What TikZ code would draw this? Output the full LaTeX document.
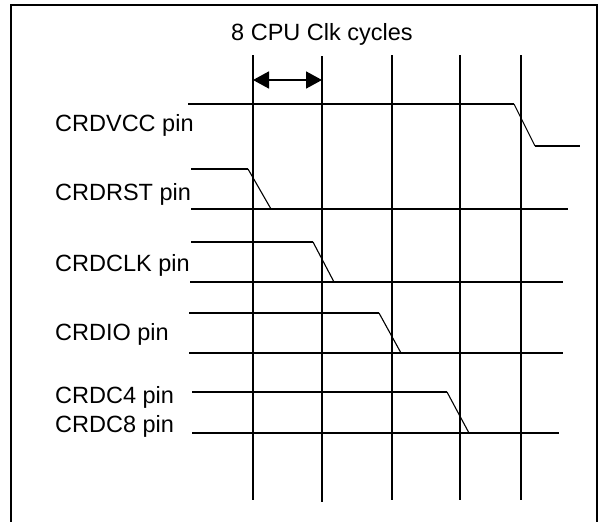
\documentclass[tikz,border=0pt]{standalone}
\usepackage{fontspec}
\setmainfont{Liberation Sans}
\usetikzlibrary{arrows.meta}
\begin{document}
\begin{tikzpicture}[x=1pt,y=-1pt,
  frame/.style={line width=2pt},
  wire/.style={line width=1.6pt},
  edgeline/.style={line width=1.1pt},
  gridline/.style={line width=1.6pt},
  lbl/.style={anchor=base west,inner sep=0pt,font=\fontsize{23.5}{28}\selectfont},
  ttl/.style={anchor=base,inner sep=0pt,font=\fontsize{23.5}{28}\selectfont},
  span/.style={line width=1.6pt,{Triangle[length=16pt,width=17pt]}-{Triangle[length=16pt,width=17pt]}}]
\useasboundingbox (0,0) rectangle (606,522);
% frame
\draw[frame] (10.7,522) -- (10.7,5) -- (597,5) -- (597,522);
% title
\node[ttl] (title) at (322,40) {8 CPU Clk cycles};
% vertical grid lines
\coordinate (g1t) at (253,55);  \coordinate (g1b) at (253,500);
\coordinate (g2t) at (322,56);  \coordinate (g2b) at (322,502);
\coordinate (g3t) at (392,55);  \coordinate (g3b) at (392,500);
\coordinate (g4t) at (460,55);  \coordinate (g4b) at (460,500);
\coordinate (g5t) at (521,55);  \coordinate (g5b) at (521,500);
\foreach \i in {1,...,5} {\draw[gridline] (g\i t) -- (g\i b);}
% arrow between first two grid lines
\coordinate (a1) at (253,80);
\coordinate (a2) at (322,80);
\draw[span] (a1) -- (a2);
% labels
\node[lbl] (lvcc) at (55,131) {CRDVCC pin};
\node[lbl] (lrst) at (55,200) {CRDRST pin};
\node[lbl] (lclk) at (55,271) {CRDCLK pin};
\node[lbl] (lio)  at (55,340) {CRDIO pin};
\node[lbl] (lc4)  at (55,403) {CRDC4 pin};
\node[lbl] (lc8)  at (55,432) {CRDC8 pin};
% CRDVCC
\coordinate (vcc1) at (188,104); \coordinate (vcc2) at (514,104);
\coordinate (vcc3) at (535,146); \coordinate (vcc4) at (580,146);
\draw[wire] (vcc1) -- (vcc2);
\draw[edgeline] (vcc2) -- (vcc3);
\draw[wire] (vcc3) -- (vcc4);
% CRDRST
\coordinate (rst1) at (191,169); \coordinate (rst2) at (248,169);
\coordinate (rst3) at (271,209); \coordinate (rst0) at (191,209);
\coordinate (rst4) at (568,209);
\draw[wire] (rst1) -- (rst2);
\draw[edgeline] (rst2) -- (rst3);
\draw[wire] (rst0) -- (rst4);
% CRDCLK
\coordinate (clk1) at (191,242); \coordinate (clk2) at (313,242);
\coordinate (clk3) at (334,282); \coordinate (clk0) at (190,282);
\coordinate (clk4) at (563,282);
\draw[wire] (clk1) -- (clk2);
\draw[edgeline] (clk2) -- (clk3);
\draw[wire] (clk0) -- (clk4);
% CRDIO
\coordinate (io1) at (189,313); \coordinate (io2) at (379,313);
\coordinate (io3) at (401,353); \coordinate (io0) at (189,353);
\coordinate (io4) at (563,353);
\draw[wire] (io1) -- (io2);
\draw[edgeline] (io2) -- (io3);
\draw[wire] (io0) -- (io4);
% CRDC4 / CRDC8
\coordinate (c41) at (192,392); \coordinate (c42) at (447,392);
\coordinate (c43) at (469,433); \coordinate (c40) at (192,433);
\coordinate (c44) at (559,433);
\draw[wire] (c41) -- (c42);
\draw[edgeline] (c42) -- (c43);
\draw[wire] (c40) -- (c44);
\end{tikzpicture}
\end{document}
